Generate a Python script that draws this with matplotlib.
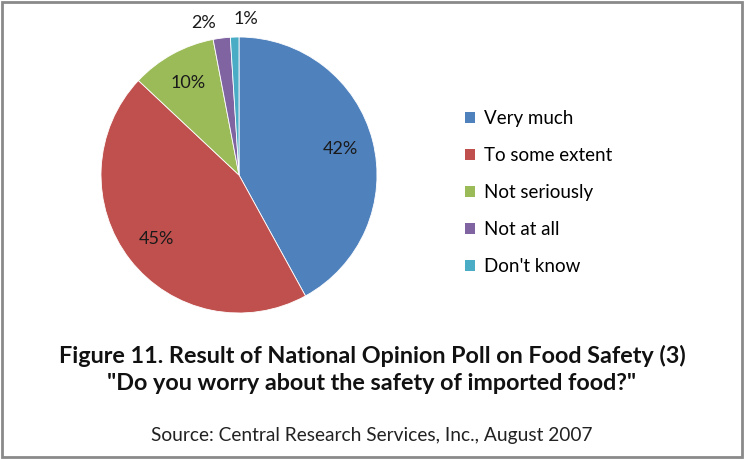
import numpy as np
import matplotlib.pyplot as plt
from matplotlib.patches import Rectangle

plt.rcParams['font.family'] = ['Lato', 'DejaVu Sans']

# poll results
categories = ["Very much", "To some extent", "Not seriously", "Not at all", "Don't know"]
shares = [42, 45, 10, 2, 1]
colors = ["#4F81BD", "#C0504D", "#9BBB59", "#8064A2", "#4BACC6"]

W, H = 744, 459
fig = plt.figure(figsize=(W / 100, H / 100), dpi=100)
ax = fig.add_axes([0, 0, 1, 1])

# pie, drawn in pixel units (y measured from bottom)
cx, cy, r = 239, H - 175, 138
wedges, texts, pcts = ax.pie(shares, colors=colors, startangle=90, counterclock=False,
                             center=(cx, cy), radius=r, frame=True,
                             autopct="%1.0f%%", pctdistance=0.76,
                             textprops=dict(fontsize=13, color="#1a1a1a"),
                             wedgeprops=dict(linewidth=0.6, edgecolor="white"))
ax.set_xlim(0, W)
ax.set_ylim(0, H)
ax.set_aspect("equal")
ax.axis("off")

# small slices: label just outside the rim
for t, shift in [(pcts[3], 6), (pcts[4], -4.5)]:
    x, y = t.get_position()
    ang = np.radians(np.degrees(np.arctan2(y - cy, x - cx)) + shift)
    t.set_position((cx + 1.13 * r * np.cos(ang), cy + 1.13 * r * np.sin(ang)))
    t.set_ha("center")

leg = ax.legend(wedges, categories, loc="upper left",
                bbox_to_anchor=(456 / W, 1 - 101 / H), frameon=False,
                fontsize=13.5, handlelength=0.5, handleheight=0.5,
                handletextpad=0.5, labelspacing=1.06, borderpad=0)
for h in leg.legend_handles:
    h.set_edgecolor("none")

fig.text(0.5, 1 - 356 / H, "Figure 11. Result of National Opinion Poll on Food Safety (3)",
         ha="center", va="center", fontsize=16.8, fontweight="bold", color="#111111")
fig.text(0.5, 1 - 383 / H, "\"Do you worry about the safety of imported food?\"",
         ha="center", va="center", fontsize=16.8, fontweight="bold", color="#111111")
fig.text(0.5, 1 - 435 / H, "Source: Central Research Services, Inc., August 2007",
         ha="center", va="center", fontsize=13.8, color="#222222")

# grey frame around the picture
fig.patches.append(Rectangle((2 / W, 2.5 / H), (W - 4) / W, (H - 4) / H,
                             transform=fig.transFigure, fill=False,
                             edgecolor="#8a8a8a", linewidth=2))

fig.savefig("out.png", dpi=100)
